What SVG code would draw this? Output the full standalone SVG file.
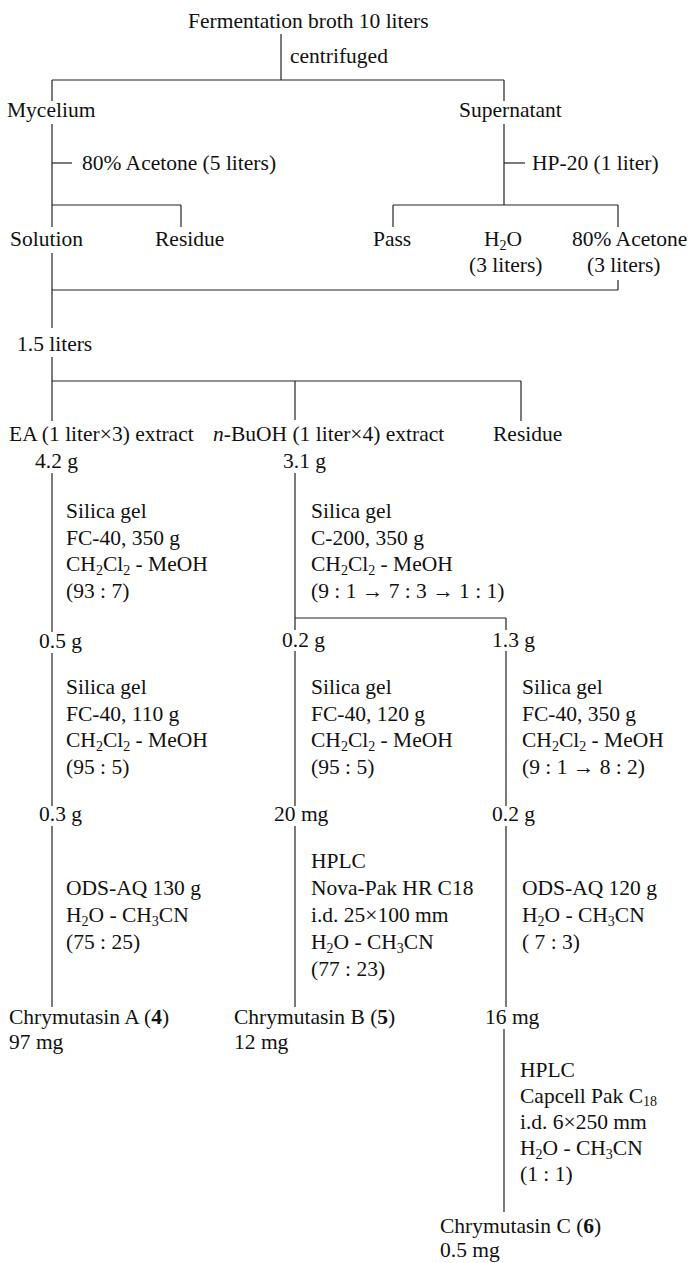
<svg xmlns="http://www.w3.org/2000/svg" width="689" height="1263" viewBox="0 0 689 1263">
<style>
text{font-family:"Liberation Serif","Times New Roman",serif;font-size:21.5px;fill:#111}
.s{font-size:14px}
.b{font-weight:bold}
.i{font-style:italic}
#connectors line{stroke:#222;stroke-width:1.2;fill:none}
</style>
<rect width="689" height="1263" fill="#fff"/>
<g id="connectors">
<line x1="281" y1="34" x2="281" y2="80"/>
<line x1="52" y1="80" x2="504" y2="80"/>
<line x1="52" y1="80" x2="52" y2="101"/>
<line x1="504" y1="80" x2="504" y2="101"/>
<line x1="52" y1="124" x2="52" y2="205"/>
<line x1="52" y1="163" x2="72" y2="163"/>
<line x1="504" y1="124" x2="504" y2="205"/>
<line x1="504" y1="163" x2="525" y2="163"/>
<line x1="52" y1="205" x2="181" y2="205"/>
<line x1="181" y1="205" x2="181" y2="227"/>
<line x1="52" y1="205" x2="52" y2="227"/>
<line x1="393" y1="205" x2="618" y2="205"/>
<line x1="393" y1="205" x2="393" y2="227"/>
<line x1="618" y1="205" x2="618" y2="227"/>
<line x1="52" y1="253" x2="52" y2="328"/>
<line x1="52" y1="290" x2="618" y2="290"/>
<line x1="618" y1="280" x2="618" y2="290"/>
<line x1="52" y1="357" x2="52" y2="381"/>
<line x1="52" y1="381" x2="521" y2="381"/>
<line x1="52" y1="381" x2="52" y2="421"/>
<line x1="295" y1="381" x2="295" y2="420"/>
<line x1="521" y1="381" x2="521" y2="421"/>
<line x1="52" y1="473" x2="52" y2="632"/>
<line x1="295" y1="473" x2="295" y2="630"/>
<line x1="295" y1="618" x2="506" y2="618"/>
<line x1="506" y1="618" x2="506" y2="630"/>
<line x1="52" y1="653" x2="52" y2="806"/>
<line x1="295" y1="651" x2="295" y2="806"/>
<line x1="506" y1="651" x2="506" y2="806"/>
<line x1="52" y1="826" x2="52" y2="1007"/>
<line x1="295" y1="826" x2="295" y2="1007"/>
<line x1="506" y1="826" x2="506" y2="1007"/>
<line x1="504" y1="1029" x2="504" y2="1212"/>
</g>
<g id="broth"><text x="188" y="28">Fermentation broth 10 liters</text></g>
<g id="step-centrifuged"><text x="290" y="63">centrifuged</text></g>
<g id="mycelium"><text x="7" y="117">Mycelium</text></g>
<g id="supernatant"><text x="459" y="117">Supernatant</text></g>
<g id="step-acetone"><text x="82" y="170">80% Acetone (5 liters)</text></g>
<g id="step-hp20"><text x="532" y="170">HP-20 (1 liter)</text></g>
<g id="solution"><text x="10" y="246">Solution</text></g>
<g id="residue1"><text x="155" y="246">Residue</text></g>
<g id="pass"><text x="373" y="246">Pass</text></g>
<g id="water"><text x="484" y="246">H<tspan class="s" dy="4">2</tspan><tspan dy="-4">O</tspan></text><text x="469" y="272">(3 liters)</text></g>
<g id="acetone80"><text x="572" y="246">80% Acetone</text><text x="587" y="272">(3 liters)</text></g>
<g id="combined"><text x="17" y="351">1.5 liters</text></g>
<g id="ea"><text x="9" y="441">EA (1 liter×3) extract</text><text x="35" y="468">4.2 g</text></g>
<g id="buoh"><text x="213" y="441"><tspan class="i">n</tspan>-BuOH (1 liter×4) extract</text><text x="283" y="468">3.1 g</text></g>
<g id="residue2"><text x="493" y="441">Residue</text></g>
<g id="step-a1"><text x="66" y="518">Silica gel</text><text x="66" y="545">FC-40, 350 g</text><text x="66" y="571">CH<tspan class="s" dy="4">2</tspan><tspan dy="-4">Cl</tspan><tspan class="s" dy="4">2</tspan><tspan dy="-4"> - MeOH</tspan></text><text x="66" y="598">(93 : 7)</text></g>
<g id="step-b1"><text x="311" y="518">Silica gel</text><text x="311" y="545">C-200, 350 g</text><text x="311" y="571">CH<tspan class="s" dy="4">2</tspan><tspan dy="-4">Cl</tspan><tspan class="s" dy="4">2</tspan><tspan dy="-4"> - MeOH</tspan></text><text x="311" y="598">(9 : 1 → 7 : 3 → 1 : 1)</text></g>
<g id="fa1"><text x="39" y="648">0.5 g</text></g>
<g id="fb1"><text x="282" y="647">0.2 g</text></g>
<g id="fc1"><text x="492" y="647">1.3 g</text></g>
<g id="step-a2"><text x="66" y="694">Silica gel</text><text x="66" y="721">FC-40, 110 g</text><text x="66" y="747">CH<tspan class="s" dy="4">2</tspan><tspan dy="-4">Cl</tspan><tspan class="s" dy="4">2</tspan><tspan dy="-4"> - MeOH</tspan></text><text x="66" y="774">(95 : 5)</text></g>
<g id="step-b2"><text x="311" y="694">Silica gel</text><text x="311" y="721">FC-40, 120 g</text><text x="311" y="747">CH<tspan class="s" dy="4">2</tspan><tspan dy="-4">Cl</tspan><tspan class="s" dy="4">2</tspan><tspan dy="-4"> - MeOH</tspan></text><text x="311" y="774">(95 : 5)</text></g>
<g id="step-c2"><text x="522" y="694">Silica gel</text><text x="522" y="721">FC-40, 350 g</text><text x="522" y="747">CH<tspan class="s" dy="4">2</tspan><tspan dy="-4">Cl</tspan><tspan class="s" dy="4">2</tspan><tspan dy="-4"> - MeOH</tspan></text><text x="522" y="774">(9 : 1 → 8 : 2)</text></g>
<g id="fa2"><text x="39" y="821">0.3 g</text></g>
<g id="fb2"><text x="274" y="821">20 mg</text></g>
<g id="fc2"><text x="492" y="821">0.2 g</text></g>
<g id="step-a3"><text x="66" y="895">ODS-AQ 130 g</text><text x="66" y="922">H<tspan class="s" dy="4">2</tspan><tspan dy="-4">O - CH</tspan><tspan class="s" dy="4">3</tspan><tspan dy="-4">CN</tspan></text><text x="66" y="949">(75 : 25)</text></g>
<g id="step-b3"><text x="311" y="868">HPLC</text><text x="311" y="895">Nova-Pak HR C18</text><text x="311" y="922">i.d. 25×100 mm</text><text x="311" y="949">H<tspan class="s" dy="4">2</tspan><tspan dy="-4">O - CH</tspan><tspan class="s" dy="4">3</tspan><tspan dy="-4">CN</tspan></text><text x="311" y="976">(77 : 23)</text></g>
<g id="step-c3"><text x="522" y="895">ODS-AQ 120 g</text><text x="522" y="922">H<tspan class="s" dy="4">2</tspan><tspan dy="-4">O - CH</tspan><tspan class="s" dy="4">3</tspan><tspan dy="-4">CN</tspan></text><text x="522" y="949">( 7 : 3)</text></g>
<g id="chrymutasin-a"><text x="9" y="1024">Chrymutasin A (<tspan class="b">4</tspan>)</text><text x="9" y="1049">97 mg</text></g>
<g id="chrymutasin-b"><text x="234" y="1024">Chrymutasin B (<tspan class="b">5</tspan>)</text><text x="234" y="1049">12 mg</text></g>
<g id="fc3"><text x="485" y="1024">16 mg</text></g>
<g id="step-c4"><text x="520" y="1077">HPLC</text><text x="520" y="1103">Capcell Pak C<tspan class="s" dy="3">18</tspan></text><text x="520" y="1129">i.d. 6×250 mm</text><text x="520" y="1155">H<tspan class="s" dy="4">2</tspan><tspan dy="-4">O - CH</tspan><tspan class="s" dy="4">3</tspan><tspan dy="-4">CN</tspan></text><text x="520" y="1181">(1 : 1)</text></g>
<g id="chrymutasin-c"><text x="440" y="1233">Chrymutasin C (<tspan class="b">6</tspan>)</text><text x="440" y="1257">0.5 mg</text></g>
</svg>
